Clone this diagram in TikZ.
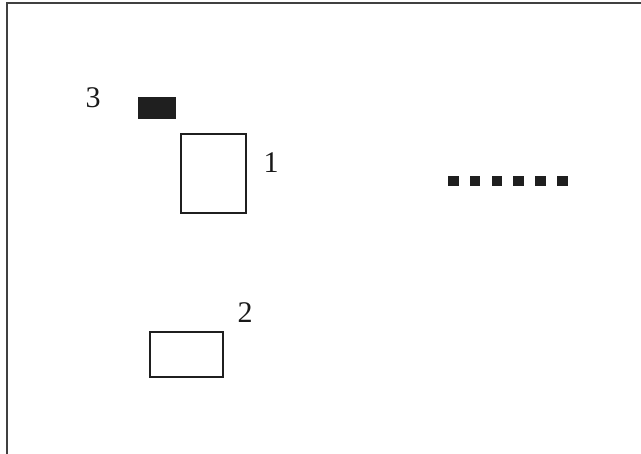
\documentclass[tikz,border=0pt]{standalone}
\usepackage{fontspec}
\setmainfont{Liberation Serif}
\begin{document}
\begin{tikzpicture}[x=1pt,y=-1pt,
  box/.style={draw=black!88,line width=2pt,fill=white},
  blk/.style={fill=black!88,draw=none},
  lbl/.style={font=\fontsize{30}{30}\selectfont,inner sep=0pt,text=black!90}]
\useasboundingbox (0,0) rectangle (641,454);
\fill[white] (0,0) rectangle (641,454);
\draw[black!75,line width=1.5pt] (7,454) -- (7,3) -- (641,3);
% rectangle 3
\fill[blk] (138,97) rectangle (176,119);
\node[lbl] (l3) at (93,98) {3};
% rectangle 1
\draw[box] (181,134) rectangle (246,213);
\node[lbl] (l1) at (271,163) {1};
% rectangle 2
\draw[box] (150,332) rectangle (223,377);
\node[lbl] (l2) at (245,313) {2};
% dotted row
\foreach \i in {0,...,5}{
  \fill[blk] ({448+21.8*\i},176) rectangle ++(10.5,10.5);
}
\end{tikzpicture}
\end{document}
